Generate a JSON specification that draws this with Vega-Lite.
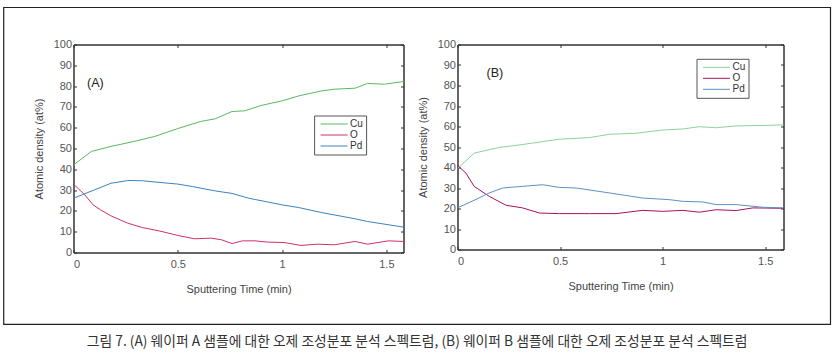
{
"$schema": "https://vega.github.io/schema/vega-lite/v6.json",
"padding": {"left": 2.5, "top": 5.5, "right": 5, "bottom": 5},
"background": "white",
"bounds": "flush",
"spacing": 54,
"title": {"text": "그림 7. (A) 웨이퍼 A 샘플에 대한 오제 조성분포 분석 스펙트럼, (B) 웨이퍼 B 샘플에 대한 오제 조성분포 분석 스펙트럼", "orient": "bottom", "anchor": "middle", "font": "Noto Sans CJK KR", "fontSize": 13.8, "fontWeight": "normal", "color": "#333", "offset": 9},
"resolve": {"scale": {"color": "independent"}, "legend": {"color": "independent"}},
"config": {
  "view": {"stroke": "#333", "strokeWidth": 1},
  "axis": {"grid": false, "tickSize": -3, "tickColor": "#333", "domainColor": "#333", "labelFont": "Liberation Sans", "labelFontSize": 11, "labelColor": "#555", "titleFont": "Liberation Sans", "titleFontSize": 11, "titleFontWeight": "normal", "titleColor": "#444", "format": "~r"},
  "axisX": {"titlePadding": 14, "labelPadding": 9},
  "axisY": {"titlePadding": 9, "labelPadding": 5},
  "legend": {"orient": "none", "title": null, "strokeColor": "#555", "padding": 3, "symbolOffset": 3, "symbolType": "M-1,0H4.4", "symbolSize": 100, "symbolStrokeWidth": 1, "labelFontSize": 10, "labelFont": "Liberation Sans", "labelColor": "#333", "rowPadding": 0, "fillColor": "white", "labelOffset": 19}
},
"datasets": {
  "A": [
    {"t": 0, "el": "Cu", "v": 42.1}, {"t": 0.086, "el": "Cu", "v": 48.6}, {"t": 0.18, "el": "Cu", "v": 51}, {"t": 0.29, "el": "Cu", "v": 53.4}, {"t": 0.39, "el": "Cu", "v": 55.8}, {"t": 0.5, "el": "Cu", "v": 59.6}, {"t": 0.61, "el": "Cu", "v": 63}, {"t": 0.68, "el": "Cu", "v": 64.3}, {"t": 0.76, "el": "Cu", "v": 67.8}, {"t": 0.82, "el": "Cu", "v": 68.1}, {"t": 0.9, "el": "Cu", "v": 70.7}, {"t": 1.0, "el": "Cu", "v": 72.9}, {"t": 1.08, "el": "Cu", "v": 75.3}, {"t": 1.19, "el": "Cu", "v": 77.7}, {"t": 1.25, "el": "Cu", "v": 78.5}, {"t": 1.35, "el": "Cu", "v": 79}, {"t": 1.41, "el": "Cu", "v": 81.3}, {"t": 1.49, "el": "Cu", "v": 80.9}, {"t": 1.582, "el": "Cu", "v": 82.2},
    {"t": 0, "el": "O", "v": 32.9}, {"t": 0.054, "el": "O", "v": 27.7}, {"t": 0.094, "el": "O", "v": 22.9}, {"t": 0.13, "el": "O", "v": 20.5}, {"t": 0.18, "el": "O", "v": 17.6}, {"t": 0.26, "el": "O", "v": 14.1}, {"t": 0.33, "el": "O", "v": 12}, {"t": 0.41, "el": "O", "v": 10.4}, {"t": 0.5, "el": "O", "v": 8.2}, {"t": 0.58, "el": "O", "v": 6.6}, {"t": 0.66, "el": "O", "v": 6.9}, {"t": 0.71, "el": "O", "v": 6.1}, {"t": 0.76, "el": "O", "v": 4.3}, {"t": 0.81, "el": "O", "v": 5.6}, {"t": 0.87, "el": "O", "v": 5.6}, {"t": 0.93, "el": "O", "v": 5}, {"t": 1.01, "el": "O", "v": 4.8}, {"t": 1.09, "el": "O", "v": 3.4}, {"t": 1.17, "el": "O", "v": 4}, {"t": 1.25, "el": "O", "v": 3.7}, {"t": 1.35, "el": "O", "v": 5.3}, {"t": 1.41, "el": "O", "v": 4}, {"t": 1.51, "el": "O", "v": 5.6}, {"t": 1.582, "el": "O", "v": 5.3},
    {"t": 0, "el": "Pd", "v": 26.1}, {"t": 0.1, "el": "Pd", "v": 30.1}, {"t": 0.18, "el": "Pd", "v": 33.3}, {"t": 0.26, "el": "Pd", "v": 34.6}, {"t": 0.33, "el": "Pd", "v": 34.5}, {"t": 0.41, "el": "Pd", "v": 33.7}, {"t": 0.5, "el": "Pd", "v": 32.9}, {"t": 0.57, "el": "Pd", "v": 31.7}, {"t": 0.68, "el": "Pd", "v": 29.6}, {"t": 0.76, "el": "Pd", "v": 28.4}, {"t": 0.84, "el": "Pd", "v": 26.1}, {"t": 1.0, "el": "Pd", "v": 22.9}, {"t": 1.08, "el": "Pd", "v": 21.6}, {"t": 1.19, "el": "Pd", "v": 19.2}, {"t": 1.35, "el": "Pd", "v": 16.2}, {"t": 1.41, "el": "Pd", "v": 14.9}, {"t": 1.582, "el": "Pd", "v": 12.2}
  ],
  "B": [
    {"t": 0, "el": "Cu", "v": 39.5}, {"t": 0.081, "el": "Cu", "v": 47}, {"t": 0.203, "el": "Cu", "v": 49.8}, {"t": 0.285, "el": "Cu", "v": 50.8}, {"t": 0.366, "el": "Cu", "v": 51.9}, {"t": 0.496, "el": "Cu", "v": 53.8}, {"t": 0.643, "el": "Cu", "v": 54.6}, {"t": 0.74, "el": "Cu", "v": 56.2}, {"t": 0.87, "el": "Cu", "v": 56.7}, {"t": 1.0, "el": "Cu", "v": 58.3}, {"t": 1.098, "el": "Cu", "v": 58.8}, {"t": 1.179, "el": "Cu", "v": 59.9}, {"t": 1.261, "el": "Cu", "v": 59.4}, {"t": 1.358, "el": "Cu", "v": 60.3}, {"t": 1.489, "el": "Cu", "v": 60.5}, {"t": 1.589, "el": "Cu", "v": 60.8},
    {"t": 0, "el": "O", "v": 41}, {"t": 0.041, "el": "O", "v": 37.3}, {"t": 0.081, "el": "O", "v": 30.8}, {"t": 0.155, "el": "O", "v": 25.9}, {"t": 0.236, "el": "O", "v": 21.6}, {"t": 0.317, "el": "O", "v": 20.3}, {"t": 0.399, "el": "O", "v": 17.8}, {"t": 0.496, "el": "O", "v": 17.5}, {"t": 0.643, "el": "O", "v": 17.5}, {"t": 0.773, "el": "O", "v": 17.5}, {"t": 0.903, "el": "O", "v": 19.1}, {"t": 1.0, "el": "O", "v": 18.6}, {"t": 1.098, "el": "O", "v": 19.1}, {"t": 1.179, "el": "O", "v": 18.2}, {"t": 1.261, "el": "O", "v": 19.4}, {"t": 1.358, "el": "O", "v": 19}, {"t": 1.44, "el": "O", "v": 20.3}, {"t": 1.589, "el": "O", "v": 20.1},
    {"t": 0, "el": "Pd", "v": 20.3}, {"t": 0.081, "el": "Pd", "v": 24}, {"t": 0.155, "el": "Pd", "v": 27.6}, {"t": 0.22, "el": "Pd", "v": 30}, {"t": 0.317, "el": "Pd", "v": 30.8}, {"t": 0.415, "el": "Pd", "v": 31.6}, {"t": 0.496, "el": "Pd", "v": 30.3}, {"t": 0.578, "el": "Pd", "v": 30}, {"t": 0.74, "el": "Pd", "v": 27.6}, {"t": 0.903, "el": "Pd", "v": 25.1}, {"t": 1.033, "el": "Pd", "v": 24.3}, {"t": 1.098, "el": "Pd", "v": 23.5}, {"t": 1.195, "el": "Pd", "v": 23.2}, {"t": 1.261, "el": "Pd", "v": 21.9}, {"t": 1.358, "el": "Pd", "v": 21.9}, {"t": 1.489, "el": "Pd", "v": 20.6}, {"t": 1.589, "el": "Pd", "v": 20.3}
  ]
},
"hconcat": [
  {
    "width": 330, "height": 208,
    "data": {"name": "A"},
    "layer": [
      {
        "mark": {"type": "line", "strokeWidth": 1},
        "encoding": {
          "x": {"field": "t", "type": "quantitative", "scale": {"domain": [0, 1.582], "nice": false, "zero": false}, "axis": {"orient": "bottom", "values": [0, 0.5, 1, 1.5], "title": "Sputtering Time (min)"}},
          "y": {"field": "v", "type": "quantitative", "scale": {"domain": [0, 100], "nice": false}, "axis": {"orient": "left", "values": [0, 10, 20, 30, 40, 50, 60, 70, 80, 90, 100], "title": "Atomic density (at%)"}},
          "color": {"field": "el", "type": "nominal", "scale": {"domain": ["Cu", "O", "Pd"], "range": ["#5cb860", "#d0306e", "#3c82c0"]}, "legend": {"legendX": 240.6, "legendY": 71}}
        }
      },
      {
        "data": {"values": [{"t": 0.105, "v": 81.7, "label": "(A)"}]},
        "mark": {"type": "text", "fontSize": 12.5, "font": "Liberation Sans", "color": "#222"},
        "encoding": {
          "x": {"field": "t", "type": "quantitative", "scale": {"domain": [0, 1.582], "nice": false, "zero": false}, "axis": {"orient": "top", "values": [0, 0.5, 1, 1.5], "labels": false, "title": null}},
          "y": {"field": "v", "type": "quantitative", "scale": {"domain": [0, 100], "nice": false}, "axis": {"orient": "right", "values": [0, 10, 20, 30, 40, 50, 60, 70, 80, 90, 100], "labels": false, "title": null}},
          "text": {"field": "label"}
        }
      },
      {
        "data": {"values": [{"frame": 1}]},
        "mark": {"type": "rect", "fillOpacity": 0, "stroke": "#222", "strokeWidth": 1.2},
        "encoding": {
          "x": {"datum": -0.3345, "type": "quantitative", "scale": {"domain": [0, 1.582], "nice": false, "zero": false}, "axis": null},
          "x2": {"datum": 3.629},
          "y": {"datum": 117.8, "type": "quantitative", "scale": {"domain": [0, 100], "nice": false}, "axis": null},
          "y2": {"datum": -34.6}
        }
      }
    ],
    "resolve": {"axis": {"x": "independent", "y": "independent"}}
  },
  {
    "width": 326, "height": 205,
    "data": {"name": "B"},
    "layer": [
      {
        "mark": {"type": "line", "strokeWidth": 1},
        "encoding": {
          "x": {"field": "t", "type": "quantitative", "scale": {"domain": [0, 1.589], "nice": false, "zero": false}, "axis": {"orient": "bottom", "values": [0, 0.5, 1, 1.5], "title": "Sputtering Time (min)"}},
          "y": {"field": "v", "type": "quantitative", "scale": {"domain": [0, 100], "nice": false}, "axis": {"orient": "left", "values": [0, 10, 20, 30, 40, 50, 60, 70, 80, 90, 100], "title": "Atomic density (at%)"}},
          "color": {"field": "el", "type": "nominal", "scale": {"domain": ["Cu", "O", "Pd"], "range": ["#8fd0a0", "#a8125e", "#5f90c4"]}, "legend": {"legendX": 239, "legendY": 14.3}}
        }
      },
      {
        "data": {"values": [{"t": 0.182, "v": 85.9, "label": "(B)"}]},
        "mark": {"type": "text", "fontSize": 12.5, "font": "Liberation Sans", "color": "#222"},
        "encoding": {
          "x": {"field": "t", "type": "quantitative", "scale": {"domain": [0, 1.589], "nice": false, "zero": false}, "axis": {"orient": "top", "values": [0, 0.5, 1, 1.5], "labels": false, "title": null}},
          "y": {"field": "v", "type": "quantitative", "scale": {"domain": [0, 100], "nice": false}, "axis": {"orient": "right", "values": [0, 10, 20, 30, 40, 50, 60, 70, 80, 90, 100], "labels": false, "title": null}},
          "text": {"field": "label"}
        }
      }
    ],
    "resolve": {"axis": {"x": "independent", "y": "independent"}}
  }
]
}
